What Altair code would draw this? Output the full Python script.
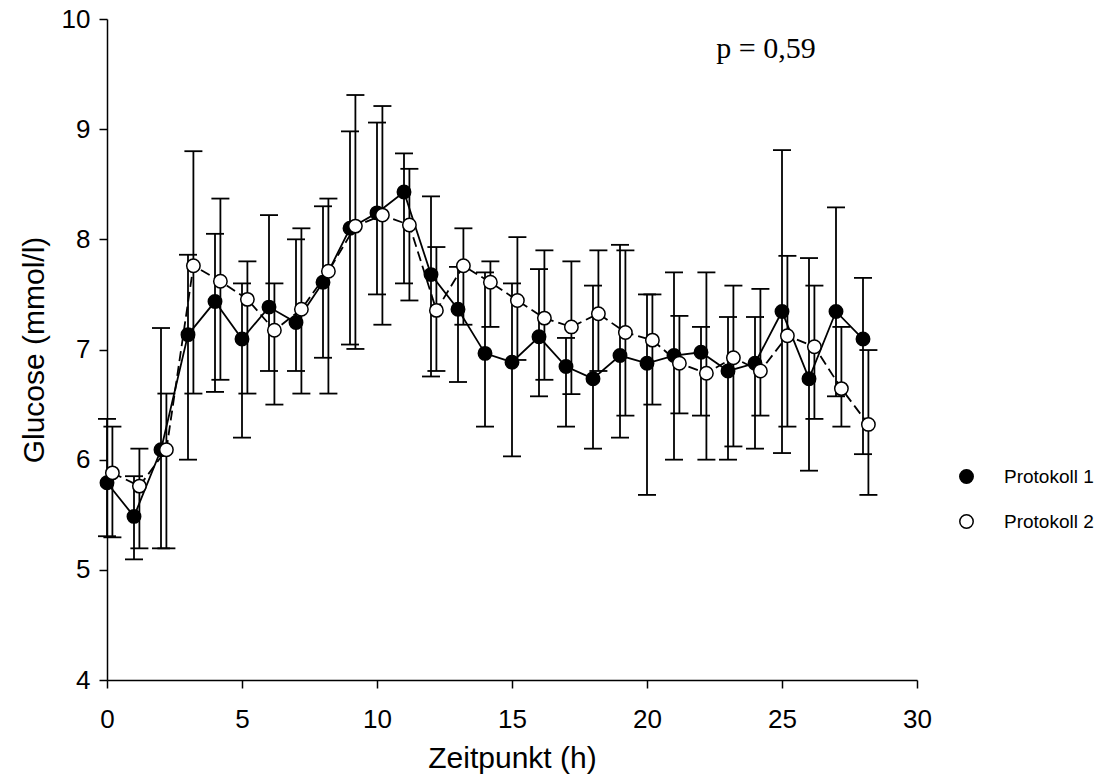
import altair as alt
import pandas as pd

# ---- data ----
hours = list(range(29))
p2_shift = 0.2  # Protokoll 2 is drawn slightly to the right

p1_mean = [5.79, 5.485, 6.09, 7.135, 7.435, 7.095, 7.385, 7.245, 7.61, 8.10,
           8.24, 8.43, 7.68, 7.365, 6.965, 6.885, 7.115, 6.845, 6.735, 6.945,
           6.875, 6.945, 6.975, 6.805, 6.875, 7.345, 6.735, 7.345, 7.095]
p1_hi = [6.37, 5.85, 7.195, 7.86, 8.05, 7.60, 8.22, 8.00, 8.30, 8.98,
         9.06, 8.78, 8.39, 7.75, 7.70, 7.60, 7.73, 7.105, 7.58, 7.95,
         7.50, 7.70, 7.205, 7.295, 7.295, 8.81, 7.83, 8.29, 7.65]
p1_lo = [5.305, 5.095, 5.195, 6.00, 6.615, 6.20, 6.805, 6.805, 6.925, 7.045,
         7.50, 7.60, 6.755, 6.705, 6.30, 6.03, 6.575, 6.30, 6.10, 6.20,
         5.68, 6.00, 6.40, 6.00, 6.10, 6.06, 5.90, 6.575, 6.05]

p2_mean = [5.88, 5.76, 6.09, 7.76, 7.62, 7.455, 7.175, 7.365, 7.71, 8.12,
           8.22, 8.13, 7.355, 7.76, 7.61, 7.445, 7.285, 7.205, 7.325, 7.155,
           7.085, 6.875, 6.785, 6.925, 6.805, 7.125, 7.025, 6.645, 6.32]
p2_hi = [6.30, 6.10, 6.60, 8.80, 8.37, 7.80, 7.60, 8.10, 8.37, 9.31,
         9.21, 8.64, 7.93, 8.10, 7.80, 8.02, 7.90, 7.80, 7.90, 7.90,
         7.50, 7.305, 7.70, 7.58, 7.55, 7.85, 7.58, 7.205, 6.995]
p2_lo = [5.295, 5.195, 5.195, 6.60, 6.725, 6.60, 6.50, 6.60, 6.60, 7.005,
         7.225, 7.445, 6.805, 7.225, 7.205, 6.905, 6.725, 6.595, 6.805, 6.40,
         6.50, 6.42, 6.00, 6.12, 6.40, 6.30, 6.37, 6.30, 5.68]

series_names = ["Protokoll 1", "Protokoll 2"]
x_ticks = [0, 5, 10, 15, 20, 25, 30]
y_ticks = [4, 5, 6, 7, 8, 9, 10]
p_label = "p = 0,59"
p_pos = (24.41, 9.643)

df1 = pd.DataFrame({"t": hours, "mean": p1_mean, "lo": p1_lo, "hi": p1_hi,
                    "Serie": series_names[0]})
df2 = pd.DataFrame({"t": [h + p2_shift for h in hours], "mean": p2_mean,
                    "lo": p2_lo, "hi": p2_hi, "Serie": series_names[1]})
df = pd.concat([df1, df2], ignore_index=True)

FONT = "Liberation Sans"

x_axis = alt.Axis(values=x_ticks, title="Zeitpunkt (h)", format="d",
                  tickSize=8, labelPadding=18, titlePadding=11,
                  labelFontSize=26, titleFontSize=30, labelFlush=False)
y_axis = alt.Axis(values=y_ticks, title="Glucose (mmol/l)", format="d",
                  tickSize=8, labelPadding=9, titlePadding=12,
                  labelFontSize=26, titleFontSize=30)
x_scale = alt.Scale(domain=[0, 30], nice=False)
y_scale = alt.Scale(domain=[4, 10], nice=False, zero=False)

base = alt.Chart(df)

rules = base.mark_rule(color="black", strokeWidth=1.8).encode(
    x=alt.X("t:Q", scale=x_scale, axis=x_axis),
    y=alt.Y("lo:Q", scale=y_scale, axis=y_axis),
    y2="hi:Q",
)
caps_hi = base.mark_tick(orient="horizontal", color="black", size=18,
                         thickness=1.8, opacity=1).encode(
    x=alt.X("t:Q", scale=x_scale, axis=x_axis),
    y=alt.Y("hi:Q", scale=y_scale, axis=y_axis),
)
caps_lo = base.mark_tick(orient="horizontal", color="black", size=18,
                         thickness=1.8, opacity=1).encode(
    x=alt.X("t:Q", scale=x_scale, axis=x_axis),
    y=alt.Y("lo:Q", scale=y_scale, axis=y_axis),
)

line1 = alt.Chart(df1).mark_line(color="black", strokeWidth=1.8).encode(
    x=alt.X("t:Q", scale=x_scale, axis=x_axis),
    y=alt.Y("mean:Q", scale=y_scale, axis=y_axis),
)
line2 = alt.Chart(df2).mark_line(color="black", strokeWidth=1.8,
                                 strokeDash=[10, 5]).encode(
    x=alt.X("t:Q", scale=x_scale, axis=x_axis),
    y=alt.Y("mean:Q", scale=y_scale, axis=y_axis),
)

points = base.mark_point(shape="circle", filled=True, size=180, stroke="black",
                         strokeWidth=1.5, opacity=1).encode(
    x=alt.X("t:Q", scale=x_scale, axis=x_axis),
    y=alt.Y("mean:Q", scale=y_scale, axis=y_axis),
    fill=alt.Fill("Serie:N",
                  scale=alt.Scale(domain=series_names, range=["black", "white"]),
                  legend=alt.Legend(orient="none", legendX=850, legendY=448,
                                    title=None, symbolType="circle",
                                    symbolSize=180, symbolStrokeColor="black",
                                    symbolStrokeWidth=1.5, symbolOpacity=1,
                                    labelFont=FONT, labelFontSize=19,
                                    labelColor="black", rowPadding=24,
                                    labelOffset=28, padding=0)),
    order=alt.Order("Serie:N"),
)

ptext = alt.Chart(pd.DataFrame({"x": [p_pos[0]], "y": [p_pos[1]],
                                "label": [p_label]})).mark_text(
    font="Liberation Serif", fontSize=30, align="center",
    baseline="alphabetic", color="black").encode(
    x=alt.X("x:Q", scale=x_scale, axis=x_axis),
    y=alt.Y("y:Q", scale=y_scale, axis=y_axis),
    text="label:N",
)

chart = alt.layer(rules, caps_hi, caps_lo, line1, line2, points, ptext).properties(
    width=810, height=661,
    autosize=alt.AutoSizeParams(type="none"),
    padding={"left": 107, "top": 19, "right": 186, "bottom": 103},
    background="white",
).configure_view(stroke=None).configure_axis(
    domainColor="black", tickColor="black", labelColor="black",
    titleColor="black", grid=False, labelFont=FONT, titleFont=FONT,
    titleFontWeight="normal", domainWidth=1.5, tickWidth=1.5,
)

chart.save("out.html", embed_options={"renderer": "svg", "actions": False})
